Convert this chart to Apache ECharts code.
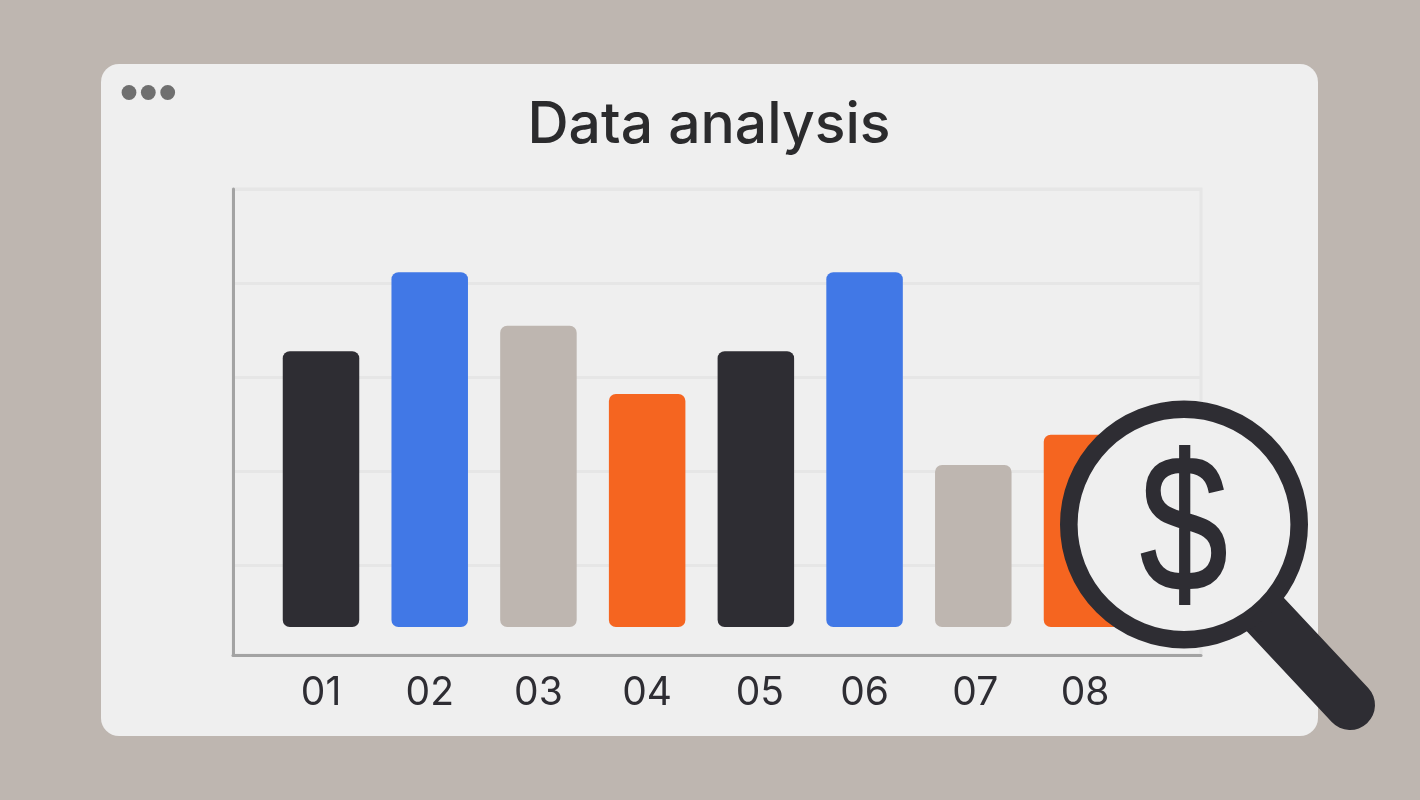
<!DOCTYPE html>
<html><head><meta charset="utf-8">
<style>html,body{margin:0;padding:0;background:#BEB6B0}#c{width:1420px;height:800px}</style>
<script src="https://cdn.jsdelivr.net/npm/echarts@6/dist/echarts.min.js"></script>
</head><body><div id="c"></div>
<script>
const titleText = 'Data analysis';
const categories = ['01','02','03','04','05','06','07','08'];
const barValues = [65.5, 82.3, 70.9, 56.4, 65.5, 82.3, 41.3, 47.7];
const barColors = ['#2E2D33','#4178E6','#BEB6B0','#F56520','#2E2D33','#4178E6','#BEB6B0','#F56520'];
const gridTicks = [20, 40, 60, 80, 100];
const labelNudge = [0, 0, 0, 0, 8, 0, 4, 6];

const ink = '#2E2D33', panel = '#EFEFEF', font = 'Inter, sans-serif';
const chart = echarts.init(document.getElementById('c'), null, {renderer:'canvas'});
chart.setOption({
  animation:false,
  backgroundColor:'#BEB6B0',
  title:{text:titleText,left:704,top:92,textAlign:'center',
    textStyle:{fontFamily:font,fontSize:57,fontWeight:500,color:'#2B2B2D'}},
  grid:[
    {left:233,top:189,width:968,height:466,show:true,borderColor:'#E6E6E6',borderWidth:3,backgroundColor:'transparent'},
    {left:266.65,top:189,width:869.7,height:438}
  ],
  xAxis:[
    {gridIndex:0,type:'value',min:0,max:1,axisLabel:{show:false},axisTick:{show:false},splitLine:{show:false},
      axisLine:{show:true,onZero:false,lineStyle:{color:'#A3A3A3',width:3}}},
    {gridIndex:1,type:'category',
      data:categories.map((c,i)=>({value:c,textStyle:{padding:[0,0,0,labelNudge[i]]}})),
      axisLine:{show:false},axisTick:{show:false},
      axisLabel:{margin:47,fontFamily:font,fontSize:39,color:ink}}
  ],
  yAxis:[
    {gridIndex:0,type:'value',min:0.85,max:100,axisLabel:{show:false},
      axisTick:{show:false,customValues:gridTicks},
      axisLine:{show:true,onZero:false,lineStyle:{color:'#A3A3A3',width:3}},
      splitLine:{show:true,lineStyle:{color:'#E6E6E6',width:3}}},
    {gridIndex:1,type:'value',min:6.81,max:100,show:false,splitLine:{show:false}}
  ],
  series:[{
    type:'bar',xAxisIndex:1,yAxisIndex:1,barWidth:76.5,silent:true,z:5,
    data:barValues.map((v,i)=>({value:v,itemStyle:{color:barColors[i],borderRadius:7}}))
  }],
  graphic:[
    {type:'rect',silent:true,z:-10,shape:{x:101,y:64,width:1217,height:672,r:18},style:{fill:panel}},
    {type:'circle',silent:true,z:-5,shape:{cx:129,cy:92.5,r:7.4},style:{fill:'#6F6F6F'}},
    {type:'circle',silent:true,z:-5,shape:{cx:148.3,cy:92.5,r:7.4},style:{fill:'#6F6F6F'}},
    {type:'circle',silent:true,z:-5,shape:{cx:167.7,cy:92.5,r:7.4},style:{fill:'#6F6F6F'}},
    {type:'line',silent:true,z:100,shape:{x1:1262,y1:611,x2:1350,y2:705},style:{stroke:ink,lineWidth:50,lineCap:'round'}},
    {type:'circle',silent:true,z:101,shape:{cx:1184,cy:524.5,r:115.2},style:{fill:panel,stroke:ink,lineWidth:17.6}},
    {type:'text',silent:true,z:102,x:1184,y:536,scaleX:0.81,
      style:{x:0,y:0,text:'$',fill:ink,stroke:ink,lineWidth:2,font:'400 195px "Liberation Sans"',textAlign:'center',textVerticalAlign:'middle'}}
  ]
});
</script></body></html>
